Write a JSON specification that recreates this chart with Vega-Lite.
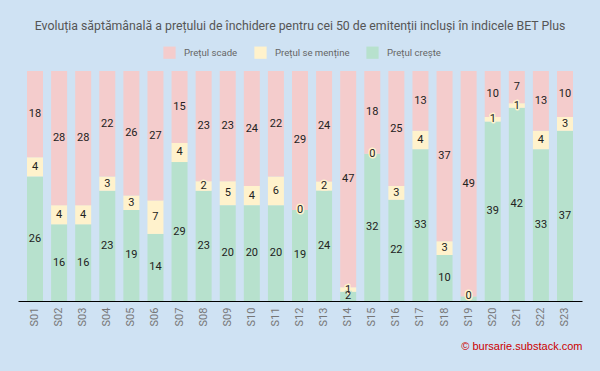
{
  "$schema": "https://vega.github.io/schema/vega-lite/v6.json",
  "width": 564,
  "height": 230,
  "autosize": {"type": "none"},
  "padding": {"left": 18, "top": 71, "right": 18, "bottom": 70},
  "background": "#cfe2f3",
  "config": {
    "view": {"stroke": null},
    "font": "Roboto"
  },
  "title": {
    "text": "Evoluția săptămânală a prețului de închidere pentru cei 50 de emitenții incluși în indicele BET Plus",
    "fontSize": 12.3,
    "fontWeight": "normal",
    "color": "#555555",
    "font": "Roboto",
    "anchor": "middle",
    "offset": 14
  },
  "data": {
    "values": [
      {"week": "S01", "cat": "Prețul crește", "n": 26}, {"week": "S01", "cat": "Prețul se menține", "n": 4}, {"week": "S01", "cat": "Prețul scade", "n": 18},
      {"week": "S02", "cat": "Prețul crește", "n": 16}, {"week": "S02", "cat": "Prețul se menține", "n": 4}, {"week": "S02", "cat": "Prețul scade", "n": 28},
      {"week": "S03", "cat": "Prețul crește", "n": 16}, {"week": "S03", "cat": "Prețul se menține", "n": 4}, {"week": "S03", "cat": "Prețul scade", "n": 28},
      {"week": "S04", "cat": "Prețul crește", "n": 23}, {"week": "S04", "cat": "Prețul se menține", "n": 3}, {"week": "S04", "cat": "Prețul scade", "n": 22},
      {"week": "S05", "cat": "Prețul crește", "n": 19}, {"week": "S05", "cat": "Prețul se menține", "n": 3}, {"week": "S05", "cat": "Prețul scade", "n": 26},
      {"week": "S06", "cat": "Prețul crește", "n": 14}, {"week": "S06", "cat": "Prețul se menține", "n": 7}, {"week": "S06", "cat": "Prețul scade", "n": 27},
      {"week": "S07", "cat": "Prețul crește", "n": 29}, {"week": "S07", "cat": "Prețul se menține", "n": 4}, {"week": "S07", "cat": "Prețul scade", "n": 15},
      {"week": "S08", "cat": "Prețul crește", "n": 23}, {"week": "S08", "cat": "Prețul se menține", "n": 2}, {"week": "S08", "cat": "Prețul scade", "n": 23},
      {"week": "S09", "cat": "Prețul crește", "n": 20}, {"week": "S09", "cat": "Prețul se menține", "n": 5}, {"week": "S09", "cat": "Prețul scade", "n": 23},
      {"week": "S10", "cat": "Prețul crește", "n": 20}, {"week": "S10", "cat": "Prețul se menține", "n": 4}, {"week": "S10", "cat": "Prețul scade", "n": 24},
      {"week": "S11", "cat": "Prețul crește", "n": 20}, {"week": "S11", "cat": "Prețul se menține", "n": 6}, {"week": "S11", "cat": "Prețul scade", "n": 22},
      {"week": "S12", "cat": "Prețul crește", "n": 19}, {"week": "S12", "cat": "Prețul se menține", "n": 0}, {"week": "S12", "cat": "Prețul scade", "n": 29},
      {"week": "S13", "cat": "Prețul crește", "n": 24}, {"week": "S13", "cat": "Prețul se menține", "n": 2}, {"week": "S13", "cat": "Prețul scade", "n": 24},
      {"week": "S14", "cat": "Prețul crește", "n": 2}, {"week": "S14", "cat": "Prețul se menține", "n": 1}, {"week": "S14", "cat": "Prețul scade", "n": 47},
      {"week": "S15", "cat": "Prețul crește", "n": 32}, {"week": "S15", "cat": "Prețul se menține", "n": 0}, {"week": "S15", "cat": "Prețul scade", "n": 18},
      {"week": "S16", "cat": "Prețul crește", "n": 22}, {"week": "S16", "cat": "Prețul se menține", "n": 3}, {"week": "S16", "cat": "Prețul scade", "n": 25},
      {"week": "S17", "cat": "Prețul crește", "n": 33}, {"week": "S17", "cat": "Prețul se menține", "n": 4}, {"week": "S17", "cat": "Prețul scade", "n": 13},
      {"week": "S18", "cat": "Prețul crește", "n": 10}, {"week": "S18", "cat": "Prețul se menține", "n": 3}, {"week": "S18", "cat": "Prețul scade", "n": 37},
      {"week": "S19", "cat": "Prețul crește", "n": 1}, {"week": "S19", "cat": "Prețul se menține", "n": 0}, {"week": "S19", "cat": "Prețul scade", "n": 49},
      {"week": "S20", "cat": "Prețul crește", "n": 39}, {"week": "S20", "cat": "Prețul se menține", "n": 1}, {"week": "S20", "cat": "Prețul scade", "n": 10},
      {"week": "S21", "cat": "Prețul crește", "n": 42}, {"week": "S21", "cat": "Prețul se menține", "n": 1}, {"week": "S21", "cat": "Prețul scade", "n": 7},
      {"week": "S22", "cat": "Prețul crește", "n": 33}, {"week": "S22", "cat": "Prețul se menține", "n": 4}, {"week": "S22", "cat": "Prețul scade", "n": 13},
      {"week": "S23", "cat": "Prețul crește", "n": 37}, {"week": "S23", "cat": "Prețul se menține", "n": 3}, {"week": "S23", "cat": "Prețul scade", "n": 10}
    ]
  },
  "transform": [
    {"calculate": "indexof(['Prețul crește','Prețul se menține','Prețul scade'], datum.cat)", "as": "k"},
    {"stack": "n", "groupby": ["week"], "sort": [{"field": "k", "order": "ascending"}], "offset": "normalize", "as": ["y0", "y1"]},
    {"calculate": "(datum.y0 + datum.y1) / 2", "as": "ym"}
  ],
  "encoding": {
    "x": {
      "field": "week",
      "type": "nominal",
      "scale": {"paddingInner": 0.336, "paddingOuter": 0.374},
      "axis": {
        "title": "© bursarie.substack.com",
        "titleAnchor": "end",
        "titleColor": "#cc0000",
        "titleFont": "Liberation Sans",
        "titleFontSize": 11,
        "titleFontWeight": "normal",
        "titlePadding": 15,
        "labelAngle": -90,
        "labelColor": "#777777",
        "labelFontSize": 11,
        "labelFont": "Roboto",
        "labelPadding": 6,
        "ticks": false,
        "domainColor": "#000000",
        "domainWidth": 1
      }
    }
  },
  "layer": [
    {
      "mark": {"type": "bar"},
      "encoding": {
        "y": {"field": "y0", "type": "quantitative", "scale": {"domain": [0, 1]}, "axis": null},
        "y2": {"field": "y1"},
        "color": {
          "field": "cat",
          "type": "nominal",
          "scale": {
            "domain": ["Prețul scade", "Prețul se menține", "Prețul crește"],
            "range": ["#f4cccc", "#fff2cc", "#b7e1cd"]
          },
          "legend": {
            "title": null,
            "orient": "none",
            "direction": "horizontal",
            "legendX": 145,
            "legendY": -25,
            "symbolType": "square",
            "symbolSize": 150,
            "symbolStrokeWidth": 0,
            "symbolOpacity": 1,
            "labelFontSize": 9.6,
            "labelColor": "#666666",
            "labelFont": "Roboto",
            "labelOffset": 8,
            "columnPadding": 16
          }
        }
      }
    },
    {
      "transform": [{"filter": "!(datum.week == 'S19' && datum.k == 0)"}],
      "mark": {"type": "text", "fontSize": 11, "font": "Roboto", "strokeWidth": 3, "strokeJoin": "round"},
      "encoding": {
        "y": {"field": "ym", "type": "quantitative", "scale": {"domain": [0, 1]}},
        "text": {"field": "n", "type": "quantitative"},
        "stroke": {
          "field": "cat",
          "type": "nominal",
          "scale": {
            "domain": ["Prețul scade", "Prețul se menține", "Prețul crește"],
            "range": ["#f4cccc", "#fff2cc", "#b7e1cd"]
          },
          "legend": null
        }
      }
    },
    {
      "transform": [{"filter": "!(datum.week == 'S19' && datum.k == 0)"}],
      "mark": {"type": "text", "fontSize": 11, "font": "Roboto", "color": "#222222"},
      "encoding": {
        "y": {"field": "ym", "type": "quantitative", "scale": {"domain": [0, 1]}},
        "text": {"field": "n", "type": "quantitative"}
      }
    }
  ]
}
